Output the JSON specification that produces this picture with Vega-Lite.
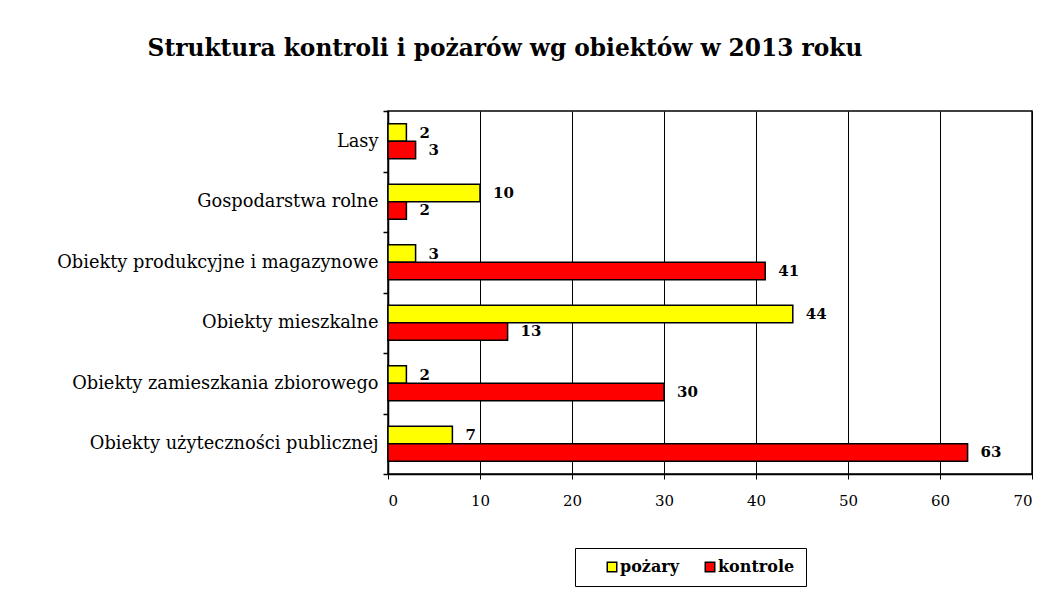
{
  "$schema": "https://vega.github.io/schema/vega-lite/v6.json",
  "autosize": {"type": "none"},
  "padding": {"left": 388, "top": 111, "right": 22, "bottom": 116},
  "width": 644,
  "height": 363,
  "background": "white",
  "config": {
    "font": "DejaVu Serif",
    "view": {"stroke": "black", "strokeWidth": 1.5}
  },
  "title": {
    "text": "Struktura kontroli i pożarów wg obiektów w 2013 roku",
    "font": "DejaVu Serif",
    "fontSize": 23.3,
    "fontWeight": "bold",
    "color": "black",
    "anchor": "middle",
    "frame": "group",
    "dx": -205,
    "offset": 41
  },
  "data": {
    "values": [
      {"obiekt": "Lasy", "seria": "pożary", "wartosc": 2},
      {"obiekt": "Lasy", "seria": "kontrole", "wartosc": 3},
      {"obiekt": "Gospodarstwa rolne", "seria": "pożary", "wartosc": 10},
      {"obiekt": "Gospodarstwa rolne", "seria": "kontrole", "wartosc": 2},
      {"obiekt": "Obiekty produkcyjne i magazynowe", "seria": "pożary", "wartosc": 3},
      {"obiekt": "Obiekty produkcyjne i magazynowe", "seria": "kontrole", "wartosc": 41},
      {"obiekt": "Obiekty mieszkalne", "seria": "pożary", "wartosc": 44},
      {"obiekt": "Obiekty mieszkalne", "seria": "kontrole", "wartosc": 13},
      {"obiekt": "Obiekty zamieszkania zbiorowego", "seria": "pożary", "wartosc": 2},
      {"obiekt": "Obiekty zamieszkania zbiorowego", "seria": "kontrole", "wartosc": 30},
      {"obiekt": "Obiekty użyteczności publicznej", "seria": "pożary", "wartosc": 7},
      {"obiekt": "Obiekty użyteczności publicznej", "seria": "kontrole", "wartosc": 63}
    ]
  },
  "encoding": {
    "y": {
      "field": "obiekt",
      "type": "nominal",
      "sort": null,
      "scale": {"paddingInner": 0, "paddingOuter": 0},
      "axis": {
        "title": null,
        "tickBand": "extent",
        "tickColor": "black",
        "tickSize": 5,
        "tickWidth": 1.5,
        "domainColor": "black",
        "domainWidth": 1.5,
        "labelFont": "DejaVu Serif",
        "labelFontSize": 17.8,
        "labelColor": "black",
        "labelPadding": 5,
        "labelLimit": 400
      }
    },
    "yOffset": {
      "field": "seria",
      "type": "nominal",
      "sort": ["pożary", "kontrole"],
      "scale": {"paddingInner": 0, "paddingOuter": 0.73}
    },
    "x": {
      "field": "wartosc",
      "type": "quantitative",
      "scale": {"domain": [0, 70], "nice": false},
      "axis": {
        "title": null,
        "values": [0, 10, 20, 30, 40, 50, 60, 70],
        "grid": true,
        "gridColor": "black",
        "gridWidth": 1,
        "gridOpacity": 1,
        "tickColor": "black",
        "tickSize": 5,
        "tickWidth": 1,
        "domainColor": "black",
        "domainWidth": 1.5,
        "labelFont": "DejaVu Serif",
        "labelFontSize": 15,
        "labelColor": "black",
        "labelPadding": 14
      }
    }
  },
  "layer": [
    {
      "mark": {"type": "bar", "stroke": "black", "strokeWidth": 1.5},
      "encoding": {
        "color": {
          "field": "seria",
          "type": "nominal",
          "scale": {"domain": ["pożary", "kontrole"], "range": ["#FFFF00", "#FF0000"]},
          "legend": {
            "title": null,
            "orient": "none",
            "direction": "horizontal",
            "legendX": 187,
            "legendY": 437,
            "strokeColor": "black",
            "fillColor": "white",
            "padding": 11,
            "symbolOffset": 18,
            "symbolType": "square",
            "symbolSize": 90,
            "symbolStrokeColor": "black",
            "symbolStrokeWidth": 1.5,
            "symbolOpacity": 1,
            "labelFont": "DejaVu Serif",
            "labelFontWeight": "bold",
            "labelFontSize": 16,
            "labelColor": "black",
            "labelOffset": 0,
            "columnPadding": 4
          }
        }
      }
    },
    {
      "mark": {
        "type": "text",
        "align": "left",
        "baseline": "middle",
        "dx": 13,
        "font": "DejaVu Serif",
        "fontSize": 15,
        "fontWeight": "bold",
        "color": "black"
      },
      "encoding": {
        "text": {"field": "wartosc", "type": "quantitative"}
      }
    }
  ]
}
